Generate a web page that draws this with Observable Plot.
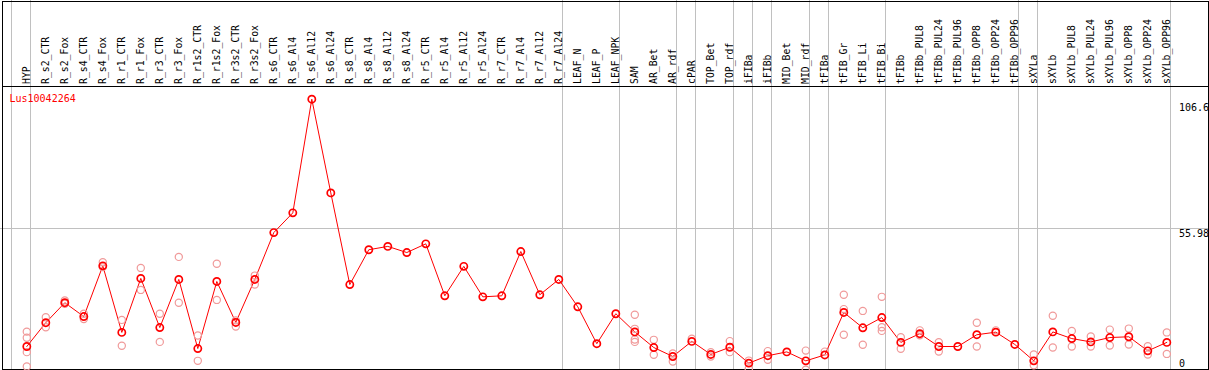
<!DOCTYPE html>
<html>
<head>
<meta charset="utf-8">
<script src="https://cdn.jsdelivr.net/npm/d3@7"></script>
<script src="https://cdn.jsdelivr.net/npm/@observablehq/plot@0.6"></script>
<style>
  html, body { margin: 0; padding: 0; background: #fff; }
  #chart svg { display: block; }
</style>
</head>
<body>
<div id="chart"></div>
<script>
const geneName = "Lus10042264";

const categories = [
  "HYP","R_s2_CTR","R_s2_Fox","R_s4_CTR","R_s4_Fox","R_r1_CTR","R_r1_Fox","R_r3_CTR","R_r3_Fox",
  "R_r1s2_CTR","R_r1s2_Fox","R_r3s2_CTR","R_r3s2_Fox","R_s6_CTR","R_s6_Al4","R_s6_Al12","R_s6_Al24",
  "R_s8_CTR","R_s8_Al4","R_s8_Al12","R_s8_Al24","R_r5_CTR","R_r5_Al4","R_r5_Al12","R_r5_Al24",
  "R_r7_CTR","R_r7_Al4","R_r7_Al12","R_r7_Al24","LEAF_N","LEAF_P","LEAF_NPK","SAM","AR_Bet","AR_rdf",
  "cPAR","TOP_Bet","TOP_rdf","iFIBa","iFIBb","MID_Bet","MID_rdf","tFIBa","tFIB_Gr","tFIB_Li","tFIB_Bi",
  "tFIBb","tFIBb_PUL8","tFIBb_PUL24","tFIBb_PUL96","tFIBb_OPP8","tFIBb_OPP24","tFIBb_OPP96","sXYLa",
  "sXYLb","sXYLb_PUL8","sXYLb_PUL24","sXYLb_PUL96","sXYLb_OPP8","sXYLb_OPP24","sXYLb_OPP96"
];

const meanValues = [
  10.0,19.3,27.1,21.7,41.5,15.5,36.6,17.4,36.2,9.2,35.4,19.4,36.2,
  54.5,62.2,106.6,70.0,
  34.2,47.8,49.1,46.7,50.1,29.8,41.3,29.4,29.8,47.1,30.2,36.2,25.5,11.1,
  22.8,15.7,9.6,6.1,12.0,6.9,9.7,3.5,6.4,7.9,4.4,6.7,23.3,17.3,21.3,11.6,
  15.0,10.0,10.0,14.6,15.6,10.8,4.4,15.7,13.1,11.8,13.5,13.8,8.3,11.6
];

const replicateValues = [
  [15.8,13.4,7.8,2.2],[21.4,17.5],[28.0,26.7],[22.8,20.7],[42.9,41.0],[20.4,10.3],[40.7,32.1],
  [22.8,11.8],[45.0,27.1],[14.3,4.4],[42.3,28.2],[20.2,17.8],[37.7,34.2],
  [],[],[],[],[],[],[],[],[],[],[],[],[],[],[],[],[],[],[],
  [22.4,16.9,12.7,11.8],[12.6,6.8],[7.3,4.1],[13.0],[7.8,6.1],[12.1,7.8],[4.5,1.3],[8.2,4.8],[],
  [8.4,0.9],[8.0],[30.2,24.6,14.6],[23.9,10.7],[29.4,17.5,16.1],[13.6,9.1],[16.3,14.4],[11.7,8.0],[],
  [19.3,10.0],[16.3],[],[6.9,2.7],[22.0,9.6],[16.1,10.0],[13.9,10.0],[16.6,10.4],[17.0,10.8],
  [10.1,6.9],[15.5,7.1]
];

const groupEnds = ["HYP","R_r7_Al24","LEAF_NPK","AR_rdf","cPAR","TOP_rdf","iFIBa","iFIBb",
  "MID_rdf","tFIBa","tFIB_Bi","tFIBb_OPP96","sXYLa","sXYLb_OPP96"];

const yTickValues = [106.6, 55.98, 0];
const yTickLabels = ["106.6", "55.98", "0"];
const thresholdLine = 55.98;

// derived tables
const meanData = meanValues.map((v, i) => ({i, v}));
const repData = replicateValues.flatMap((arr, i) => arr.map(v => ({i, v})));
const boundaryData = [-1, ...groupEnds.map(n => categories.indexOf(n))].map(i => ({pos: i + 0.21}));
const tickData = yTickValues.map((v, k) => ({v, label: yTickLabels[k]}));

const gray = "#c0c0c0";
const red = "#ff0000";
const pale = "#f09a9a";

const plot = Plot.plot({
  width: 1209,
  height: 370,
  margin: 0,
  style: {fontFamily: "'DejaVu Sans Mono', monospace", fontSize: "10px", background: "#fff", color: "#000"},
  x: {type: "linear", domain: [0, 60], range: [26.3, 1166.3], axis: null},
  y: {type: "linear", domain: [0, 106.6], range: [371.6, 98.7], axis: null},
  marks: [
    Plot.ruleX(boundaryData, {x: "pos", stroke: gray, strokeWidth: 1, shapeRendering: "crispEdges"}),
    Plot.ruleY([thresholdLine], {stroke: gray, strokeWidth: 1, shapeRendering: "crispEdges"}),
    Plot.frame({stroke: "#000", insetLeft: 1.5, insetTop: 0.5, insetRight: 1.5, insetBottom: 1.5, shapeRendering: "crispEdges"}),
    Plot.frame({stroke: "#000", insetLeft: 1.5, insetTop: 0.5, insetRight: 1.5, insetBottom: 370 - 85.5, shapeRendering: "crispEdges"}),
    Plot.text(categories, {
      x: (d, i) => i, text: d => d, frameAnchor: "top", dy: 83.5,
      rotate: -90, textAnchor: "start", lineAnchor: "middle",
      fill: "#000", fontSize: 9.8
    }),
    Plot.line(meanData, {x: "i", y: "v", stroke: red, strokeWidth: 1}),
    Plot.dot(repData, {x: "i", y: "v", r: 3.6, stroke: pale, strokeWidth: 1.2, fill: "none"}),
    Plot.dot(meanData, {x: "i", y: "v", r: 3.6, stroke: red, strokeWidth: 1.7, fill: "none"}),
    Plot.text([geneName], {text: d => d, frameAnchor: "top-left", dx: 9, dy: 98,
      textAnchor: "start", lineAnchor: "middle", fill: red, fontSize: 10}),
    Plot.text(tickData.filter(d => d.v === 106.6), {y: "v", text: "label", frameAnchor: "right", dx: -30.5, dy: 4.6,
      textAnchor: "start", lineAnchor: "top", fill: "#000", fontSize: 10}),
    Plot.text(tickData.filter(d => d.v === 55.98), {y: "v", text: "label", frameAnchor: "right", dx: -30.5, dy: 0.7,
      textAnchor: "start", lineAnchor: "top", fill: "#000", fontSize: 10}),
    Plot.text(tickData.filter(d => d.v === 0), {y: "v", text: "label", frameAnchor: "right", dx: -30.5, dy: -12.3,
      textAnchor: "start", lineAnchor: "top", fill: "#000", fontSize: 10})
  ]
});

document.getElementById("chart").appendChild(plot);
</script>
</body>
</html>
